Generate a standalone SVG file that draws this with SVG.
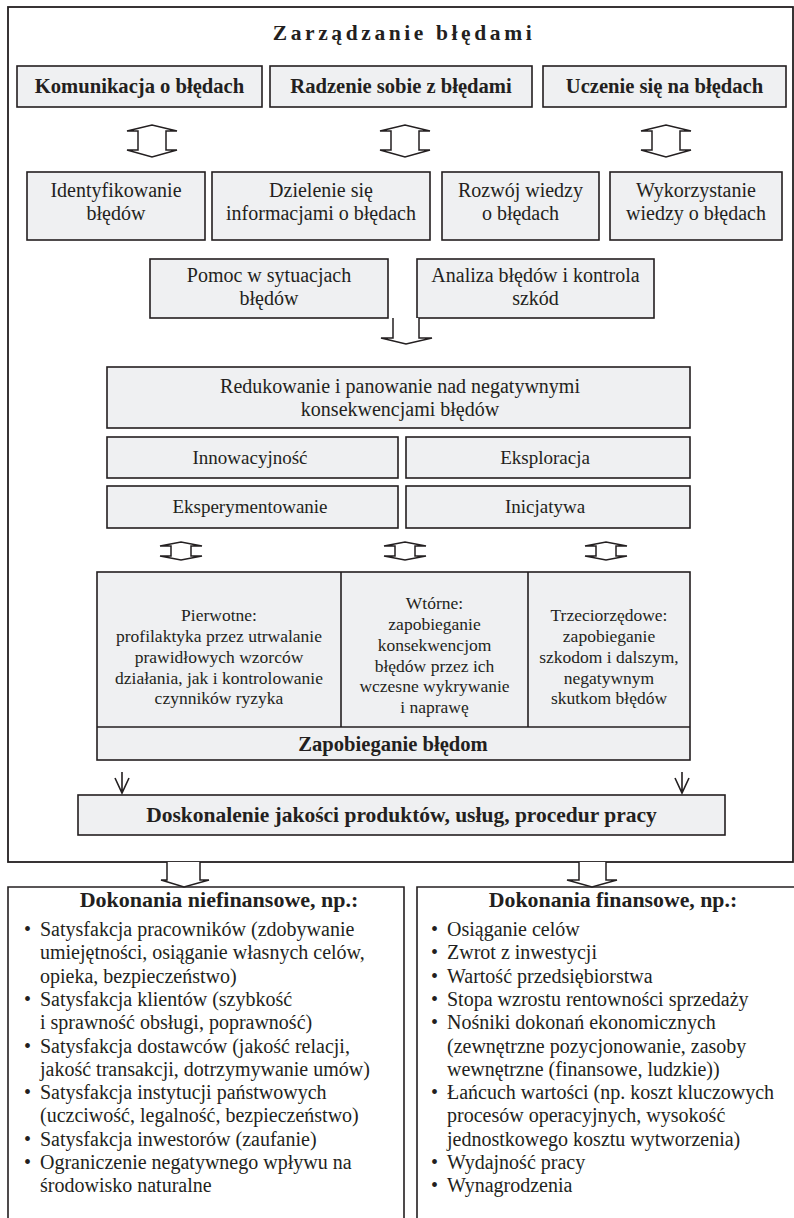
<svg xmlns="http://www.w3.org/2000/svg" width="794" height="1218" viewBox="0 0 794 1218">
<style>
.box{fill:#eff0f2;stroke:#231f20;stroke-width:1.6}
.frame{fill:none;stroke:#231f20;stroke-width:1.8}
.arr{fill:#fff;stroke:#231f20;stroke-width:1.5;stroke-linejoin:miter}
.ln{fill:none;stroke:#231f20;stroke-width:1.6}
text{font-family:"Liberation Serif","Times New Roman",serif;fill:#231f20}
.b{font-weight:bold;font-size:20.6px;text-anchor:middle}
.r{font-size:20px;text-anchor:middle}
.c{font-size:17.5px;text-anchor:middle}
.l{font-size:20px}
</style>
<defs>
<path id="dbl" d="M-25,6 L0,0 L25,6 L14,6 L14,25 L25,25 L0,32 L-25,25 L-14,25 L-14,6 Z"/>
<path id="dbls" d="M-21,4 L0,0 L21,4 L10,4 L10,14 L21,14 L0,18 L-21,14 L-10,14 L-10,4 Z"/>
</defs>
<rect class="frame" x="8" y="7" width="785" height="855"/>
<text x="404" y="40" class="b" style="font-size:21.5px;letter-spacing:3.6px">Zarządzanie błędami</text>
<g id="n-komunikacja"><rect class="box" x="17" y="66" width="245" height="41"/><text x="139.5" y="93" class="b">Komunikacja o błędach</text></g>
<g id="n-radzenie"><rect class="box" x="270" y="66" width="262" height="41"/><text x="401" y="93" class="b">Radzenie sobie z błędami</text></g>
<g id="n-uczenie"><rect class="box" x="543" y="66" width="243" height="41"/><text x="664.5" y="93" class="b">Uczenie się na błędach</text></g>
<g id="n-ident"><rect class="box" x="27" y="172" width="178" height="68"/><text x="116" y="197" class="r">Identyfikowanie</text><text x="116" y="220" class="r">błędów</text></g>
<g id="n-dzielenie"><rect class="box" x="212" y="172" width="218" height="68"/><text x="321" y="197" class="r">Dzielenie się</text><text x="321" y="220" class="r">informacjami o błędach</text></g>
<g id="n-rozwoj"><rect class="box" x="442" y="172" width="157" height="68"/><text x="520.5" y="197" class="r">Rozwój wiedzy</text><text x="520.5" y="220" class="r">o błędach</text></g>
<g id="n-wykorzystanie"><rect class="box" x="610" y="172" width="172" height="68"/><text x="696" y="197" class="r">Wykorzystanie</text><text x="696" y="220" class="r">wiedzy o błędach</text></g>
<g id="n-pomoc"><rect class="box" x="150" y="259" width="238" height="59"/><text x="269" y="282" class="r">Pomoc w sytuacjach</text><text x="269" y="305" class="r">błędów</text></g>
<g id="n-analiza"><rect class="box" x="417" y="259" width="237" height="59"/><text x="535.5" y="282" class="r">Analiza błędów i kontrola</text><text x="535.5" y="305" class="r">szkód</text></g>
<g id="n-redukowanie"><rect class="box" x="107" y="367" width="583" height="61"/><text x="400" y="393" class="r">Redukowanie i panowanie nad negatywnymi</text><text x="400" y="416" class="r">konsekwencjami błędów</text></g>
<g id="n-innow"><rect class="box" x="107" y="437" width="291" height="41"/><text x="250" y="464" class="r" style="font-size:19px">Innowacyjność</text></g>
<g id="n-eksplor"><rect class="box" x="406" y="437" width="284" height="41"/><text x="545" y="464" class="r" style="font-size:19px">Eksploracja</text></g>
<g id="n-eksper"><rect class="box" x="107" y="486" width="291" height="42"/><text x="250" y="513" class="r" style="font-size:19px">Eksperymentowanie</text></g>
<g id="n-inicj"><rect class="box" x="406" y="486" width="284" height="42"/><text x="545" y="513" class="r" style="font-size:19px">Inicjatywa</text></g>
<g id="n-zapobieganie">
<rect class="box" x="97" y="572" width="593" height="188"/>
<line class="ln" x1="97" y1="727" x2="690" y2="727"/>
<line class="ln" x1="341" y1="572" x2="341" y2="727"/>
<line class="ln" x1="528" y1="572" x2="528" y2="727"/>
<text x="219" class="c"><tspan x="219" y="621">Pierwotne:</tspan><tspan x="219" y="642">profilaktyka przez utrwalanie</tspan><tspan x="219" y="663">prawidłowych wzorców</tspan><tspan x="219" y="684">działania, jak i kontrolowanie</tspan><tspan x="219" y="704">czynników ryzyka</tspan></text>
<text x="434.5" class="c"><tspan x="434.5" y="609">Wtórne:</tspan><tspan x="434.5" y="630">zapobieganie</tspan><tspan x="434.5" y="651">konsekwencjom</tspan><tspan x="434.5" y="672">błędów przez ich</tspan><tspan x="434.5" y="692">wczesne wykrywanie</tspan><tspan x="434.5" y="713">i naprawę</tspan></text>
<text x="609" class="c"><tspan x="609" y="621">Trzeciorzędowe:</tspan><tspan x="609" y="642">zapobieganie</tspan><tspan x="609" y="663">szkodom i dalszym,</tspan><tspan x="609" y="684">negatywnym</tspan><tspan x="609" y="704">skutkom błędów</tspan></text>
<text x="393" y="751" class="b">Zapobieganie błędom</text>
</g>
<g id="n-doskonalenie"><rect class="box" x="78" y="795" width="647" height="40"/><text x="401.5" y="822" class="b" style="font-size:21.5px">Doskonalenie jakości produktów, usług, procedur pracy</text></g>
<g id="n-niefinansowe">
<polyline class="ln" points="8,1230 8,887 404,887 404,1230"/>
<text x="219" y="907" class="b" style="font-size:22px">Dokonania niefinansowe, np.:</text>
<g class="l">
<text x="24" y="936">•</text><text x="40" y="936">Satysfakcja pracowników (zdobywanie</text>
<text x="40" y="959.3">umiejętności, osiąganie własnych celów,</text>
<text x="40" y="982.6">opieka, bezpieczeństwo)</text>
<text x="24" y="1005.9">•</text><text x="40" y="1005.9">Satysfakcja klientów (szybkość</text>
<text x="40" y="1029.2">i sprawność obsługi, poprawność)</text>
<text x="24" y="1052.5">•</text><text x="40" y="1052.5">Satysfakcja dostawców (jakość relacji,</text>
<text x="40" y="1075.8">jakość transakcji, dotrzymywanie umów)</text>
<text x="24" y="1099.1">•</text><text x="40" y="1099.1">Satysfakcja instytucji państwowych</text>
<text x="40" y="1122.4">(uczciwość, legalność, bezpieczeństwo)</text>
<text x="24" y="1145.7">•</text><text x="40" y="1145.7">Satysfakcja inwestorów (zaufanie)</text>
<text x="24" y="1169">•</text><text x="40" y="1169">Ograniczenie negatywnego wpływu na</text>
<text x="40" y="1192.3">środowisko naturalne</text>
</g>
</g>
<g id="n-finansowe">
<polyline class="ln" points="417,1230 417,887 800,887"/>
<text x="613" y="907" class="b" style="font-size:21.8px">Dokonania finansowe, np.:</text>
<g class="l">
<text x="431" y="936">•</text><text x="447" y="936">Osiąganie celów</text>
<text x="431" y="959.3">•</text><text x="447" y="959.3">Zwrot z inwestycji</text>
<text x="431" y="982.6">•</text><text x="447" y="982.6">Wartość przedsiębiorstwa</text>
<text x="431" y="1005.9">•</text><text x="447" y="1005.9">Stopa wzrostu rentowności sprzedaży</text>
<text x="431" y="1029.2">•</text><text x="447" y="1029.2">Nośniki dokonań ekonomicznych</text>
<text x="447" y="1052.5">(zewnętrzne pozycjonowanie, zasoby</text>
<text x="447" y="1075.8">wewnętrzne (finansowe, ludzkie))</text>
<text x="431" y="1099.1">•</text><text x="447" y="1099.1">Łańcuch wartości (np. koszt kluczowych</text>
<text x="447" y="1122.4">procesów operacyjnych, wysokość</text>
<text x="447" y="1145.7">jednostkowego kosztu wytworzenia)</text>
<text x="431" y="1169">•</text><text x="447" y="1169">Wydajność pracy</text>
<text x="431" y="1192.3">•</text><text x="447" y="1192.3">Wynagrodzenia</text>
</g>
</g>
<g id="connectors">
<use href="#dbl" class="arr" x="152" y="125"/>
<use href="#dbl" class="arr" x="405" y="125"/>
<use href="#dbl" class="arr" x="666" y="125"/>
<path class="arr" d="M393,318 L393,338 L381,338 L406,344 L432,338 L419,338 L419,318"/>
<use href="#dbls" class="arr" x="181" y="542"/>
<use href="#dbls" class="arr" x="405" y="542"/>
<use href="#dbls" class="arr" x="606" y="542"/>
<path class="ln" d="M122,772 L122,793 M115,778 L122,793 L129,778"/>
<path class="ln" d="M682,772 L682,793 M675,778 L682,793 L689,778"/>
<path class="arr" d="M167,862 L167,880 L161,880 L184,887 L209,880 L200,880 L200,862"/>
<path class="arr" d="M579,862 L579,880 L567,880 L592,887 L617,880 L606,880 L606,862"/>
</g>
</svg>
